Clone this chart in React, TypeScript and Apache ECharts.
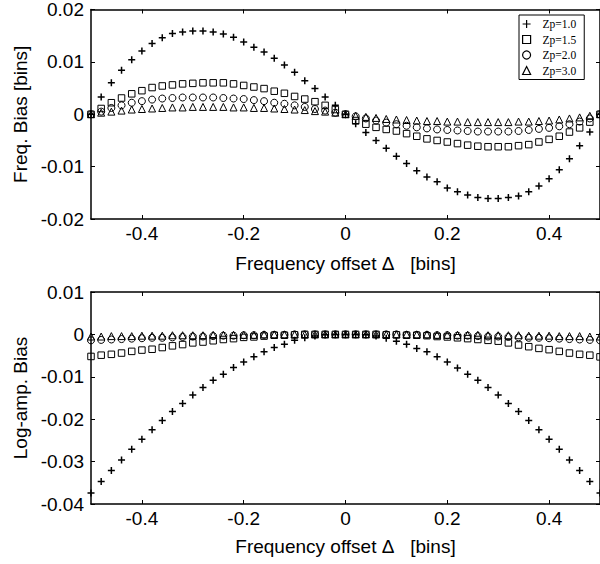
import { useEffect, useRef } from "react";
import * as echarts from "echarts";

const offsets = [
  -0.5, -0.48, -0.46, -0.44, -0.42, -0.4, -0.38, -0.36, -0.34, -0.32, -0.3, -0.28, -0.26,
  -0.24, -0.22, -0.2, -0.18, -0.16, -0.14, -0.12, -0.1, -0.08, -0.06, -0.04, -0.02, 0,
  0.02, 0.04, 0.06, 0.08, 0.1, 0.12, 0.14, 0.16, 0.18, 0.2, 0.22, 0.24, 0.26, 0.28, 0.3,
  0.32, 0.34, 0.36, 0.38, 0.4, 0.42, 0.44, 0.46, 0.48, 0.5,
];

const xTicks = [-0.4, -0.2, 0, 0.2, 0.4];
const seriesNames = ["Zp=1.0", "Zp=1.5", "Zp=2.0", "Zp=3.0"];

const biasZp10 = [
  0, 0.0033, 0.006, 0.0084, 0.0104, 0.0121, 0.0135, 0.0146, 0.0154, 0.0157, 0.0159, 0.0159,
  0.0157, 0.0153, 0.0147, 0.0138, 0.0128, 0.0119, 0.0107, 0.0094, 0.008, 0.0064, 0.0049,
  0.0033, 0.0017, 0, -0.0018, -0.0035, -0.005, -0.0065, -0.008, -0.0094, -0.0108, -0.012,
  -0.0129, -0.0141, -0.0148, -0.0154, -0.0159, -0.0161, -0.0161, -0.0159, -0.0156, -0.0148,
  -0.0137, -0.0123, -0.0106, -0.0085, -0.006, -0.0034, 0,
];
const biasZp15 = [
  0, 0.0011, 0.0022, 0.0031, 0.0039, 0.0045, 0.0051, 0.0054, 0.0056, 0.0058, 0.0059, 0.006,
  0.006, 0.006, 0.0058, 0.0055, 0.0052, 0.0049, 0.0044, 0.004, 0.0034, 0.0029, 0.0024,
  0.0017, 0.0009, 0, -0.0012, -0.0019, -0.0025, -0.0029, -0.0032, -0.0037, -0.0042, -0.0047,
  -0.005, -0.0053, -0.0056, -0.0059, -0.0061, -0.0062, -0.0062, -0.0062, -0.006, -0.0058,
  -0.0053, -0.0048, -0.0042, -0.0034, -0.0026, -0.0015, 0,
];
const biasZp20 = [
  0, 0.0005, 0.0012, 0.0017, 0.0022, 0.0025, 0.0028, 0.003, 0.0031, 0.0032, 0.0032, 0.0032,
  0.0032, 0.0031, 0.003, 0.0029, 0.0027, 0.0025, 0.0022, 0.002, 0.0017, 0.0014, 0.001,
  0.0007, 0.0003, 0, -0.0004, -0.0008, -0.0012, -0.0016, -0.0019, -0.0022, -0.0025, -0.0027,
  -0.0029, -0.003, -0.0031, -0.0032, -0.0033, -0.0033, -0.0033, -0.0033, -0.0032, -0.003,
  -0.0028, -0.0026, -0.0023, -0.0019, -0.0014, -0.0008, 0,
];
const biasZp30 = [
  0, 0.0003, 0.0005, 0.0007, 0.0009, 0.001, 0.0011, 0.0012, 0.0013, 0.0013, 0.0014, 0.0014,
  0.0014, 0.0014, 0.0013, 0.0013, 0.0012, 0.0012, 0.0011, 0.001, 0.0009, 0.0008, 0.0006,
  0.0005, 0.0003, 0, -0.0003, -0.0005, -0.0007, -0.0009, -0.001, -0.0011, -0.0012, -0.0013,
  -0.0013, -0.0014, -0.0014, -0.0015, -0.0015, -0.0015, -0.0015, -0.0015, -0.0014, -0.0014,
  -0.0013, -0.0012, -0.001, -0.0008, -0.0006, -0.0003, 0,
];

const ampZp10 = [
  -0.0374, -0.0347, -0.0321, -0.0296, -0.0271, -0.0247, -0.0225, -0.0203, -0.0182, -0.0163,
  -0.0143, -0.0125, -0.0108, -0.0094, -0.0078, -0.0065, -0.0053, -0.0041, -0.0031, -0.0023,
  -0.0014, -0.0008, -0.0004, -0.0001, 0, 0, 0, -0.0001, -0.0004, -0.0009, -0.0016, -0.0023,
  -0.0033, -0.0041, -0.0053, -0.0065, -0.0079, -0.0094, -0.0108, -0.0125, -0.0143, -0.0163,
  -0.0182, -0.0203, -0.0225, -0.0247, -0.0271, -0.0296, -0.0321, -0.0347, -0.0374,
];
const ampZp15 = [
  -0.0052, -0.0049, -0.0047, -0.0044, -0.004, -0.0037, -0.0035, -0.0031, -0.0027, -0.0024,
  -0.002, -0.0018, -0.0015, -0.0012, -0.001, -0.0007, -0.0006, -0.0004, -0.0002, -0.0002,
  -0.0001, 0, 0, 0, 0, 0, 0, 0, 0, -0.0001, -0.0001, -0.0002, -0.0002, -0.0003, -0.0005,
  -0.0006, -0.0008, -0.001, -0.0012, -0.0014, -0.0016, -0.002, -0.0025, -0.0029, -0.0033,
  -0.0036, -0.004, -0.0044, -0.0047, -0.0049, -0.0053,
];
const ampZp20 = [
  -0.0014, -0.0013, -0.0012, -0.0011, -0.001, -0.0009, -0.0008, -0.0008, -0.0007, -0.0006,
  -0.0005, -0.0005, -0.0004, -0.0003, -0.0003, -0.0002, -0.0002, -0.0001, -0.0001, -0.0001,
  0, 0, 0, 0, 0, 0, 0, 0, 0, 0, 0, -0.0001, -0.0001, -0.0001, -0.0002, -0.0002, -0.0003,
  -0.0003, -0.0004, -0.0005, -0.0005, -0.0006, -0.0007, -0.0008, -0.0008, -0.0009, -0.001,
  -0.0011, -0.0012, -0.0013, -0.0014,
];
const ampZp30 = [
  -0.0005, -0.0005, -0.0004, -0.0004, -0.0004, -0.0003, -0.0003, -0.0003, -0.0002, -0.0002,
  -0.0002, -0.0002, -0.0001, -0.0001, -0.0001, -0.0001, -0.0001, 0, 0, 0, 0, 0, 0, 0, 0, 0,
  0, 0, 0, 0, 0, 0, 0, 0, -0.0001, -0.0001, -0.0001, -0.0001, -0.0001, -0.0002, -0.0002,
  -0.0002, -0.0002, -0.0003, -0.0003, -0.0003, -0.0004, -0.0004, -0.0004, -0.0005, -0.0005,
];

const FONT = '"Liberation Sans", Arial, sans-serif';
const SERIF = '"Liberation Serif", "Times New Roman", serif';
const X_TITLE = "Frequency offset Δ\u00a0\u00a0\u00a0[bins]";

const symbols = [
  "path://M5,0L5,10M0,5L10,5",
  "rect",
  "circle",
  "triangle",
];
const sizes = [7, 6.5, 7, 7];
const widths = [1.5, 1, 1, 1];

function xAxes(grid: number, titleGap: number) {
  const line = { show: true, onZero: false, lineStyle: { color: "#000", width: 1.5 } };
  return [
    {
      type: "value",
      gridIndex: grid,
      position: "bottom",
      min: -0.5,
      max: 0.5,
      axisLine: line,
      axisTick: { show: true, inside: true, length: 4, customValues: xTicks, lineStyle: { color: "#000", width: 1 } },
      axisLabel: {
        show: true,
        customValues: xTicks,
        formatter: (v: number) => String(+v.toFixed(1)),
        margin: 5,
        color: "#000",
        fontSize: 19,
        fontFamily: FONT,
      },
      splitLine: { show: false },
      name: X_TITLE,
      nameLocation: "middle",
      nameGap: titleGap,
      nameTextStyle: { color: "#000", fontSize: 19, fontFamily: FONT },
    },
    {
      type: "value",
      gridIndex: grid,
      position: "top",
      min: -0.5,
      max: 0.5,
      axisLine: line,
      axisTick: { show: true, inside: true, length: 4, customValues: xTicks, lineStyle: { color: "#000", width: 1 } },
      axisLabel: { show: false },
      splitLine: { show: false },
    },
  ];
}

function yAxes(grid: number, min: number, max: number, title: string) {
  const line = { show: true, onZero: false, lineStyle: { color: "#000", width: 1.5 } };
  return [
    {
      type: "value",
      gridIndex: grid,
      position: "left",
      min,
      max,
      interval: 0.01,
      axisLine: line,
      axisTick: { show: true, inside: true, length: 4, lineStyle: { color: "#000", width: 1 } },
      axisLabel: {
        show: true,
        formatter: (v: number) => String(+v.toFixed(2)),
        margin: 7,
        padding: [10, 0, 0, 0],
        color: "#000",
        fontSize: 19,
        fontFamily: FONT,
      },
      splitLine: { show: false },
      name: title,
      nameLocation: "middle",
      nameRotate: 90,
      nameGap: 61,
      nameTextStyle: { color: "#000", fontSize: 19, fontFamily: FONT },
    },
    {
      type: "value",
      gridIndex: grid,
      position: "right",
      min,
      max,
      interval: 0.01,
      axisLine: line,
      axisTick: { show: true, inside: true, length: 4, lineStyle: { color: "#000", width: 1 } },
      axisLabel: { show: false },
      splitLine: { show: false },
    },
  ];
}

function scatter(name: string, idx: number, values: number[], axis: number) {
  return {
    type: "scatter",
    name,
    xAxisIndex: axis,
    yAxisIndex: axis,
    symbol: symbols[idx],
    symbolSize: sizes[idx],
    itemStyle: { color: "transparent", borderColor: "#000", borderWidth: widths[idx], opacity: 1 },
    emphasis: { disabled: true },
    data: offsets.map((x, i) => [x, values[i]]),
    z: 3,
  };
}

export default function App() {
  const ref = useRef<HTMLDivElement>(null);
  useEffect(() => {
    const chart = echarts.init(ref.current!, null, { renderer: "svg" });
    const topSets = [biasZp10, biasZp15, biasZp20, biasZp30];
    const botSets = [ampZp10, ampZp15, ampZp20, ampZp30];
    chart.setOption({
      animation: false,
      backgroundColor: "#fff",
      grid: [
        { left: 91, top: 6, width: 511, height: 213 },
        { left: 91, top: 292, width: 511, height: 212 },
      ],
      xAxis: [...xAxes(0, 35), ...xAxes(1, 33)],
      yAxis: [
        ...yAxes(0, -0.02, 0.02, "Freq. Bias [bins]"),
        ...yAxes(1, -0.04, 0.01, "Log-amp. Bias"),
      ],
      legend: {
        show: true,
        data: seriesNames,
        orient: "vertical",
        left: 519,
        top: 15,
        itemWidth: 8,
        itemHeight: 8,
        itemGap: 3.5,
        padding: [3, 8, 3, 3],
        borderColor: "#000",
        borderWidth: 1,
        backgroundColor: "#fff",
        selectedMode: false,
        itemStyle: { borderWidth: 1.2 },
        textStyle: {
          color: "#000",
          fontSize: 11.5,
          lineHeight: 12,
          fontFamily: SERIF,
          padding: [0, 0, 0, 7],
        },
        z: 10,
      },
      series: [
        ...seriesNames.map((n, i) => scatter(n, i, topSets[i], 0)),
        ...seriesNames.map((n, i) => scatter(n, i, botSets[i], 2)),
      ],
    });
    return () => chart.dispose();
  }, []);
  return (
    <div
      ref={ref}
      style={{ position: "absolute", left: 0, top: 0, width: 600, height: 564, background: "#fff" }}
    />
  );
}
